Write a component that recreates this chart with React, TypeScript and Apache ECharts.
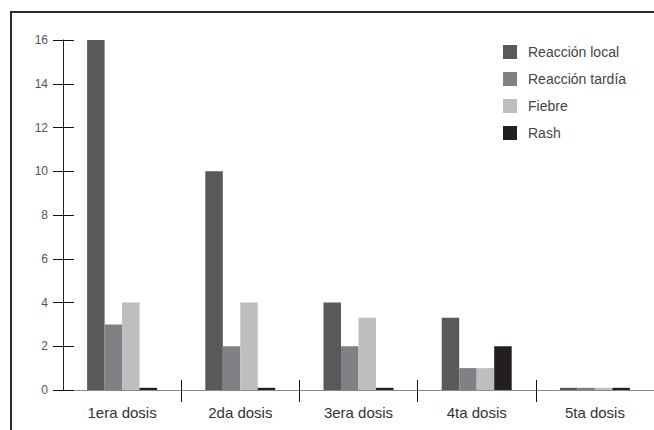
import React, { useEffect, useRef } from "react";
import * as echarts from "echarts";

const categories = ["1era dosis", "2da dosis", "3era dosis", "4ta dosis", "5ta dosis"];
const seriesNames = ["Reacción local", "Reacción tardía", "Fiebre", "Rash"];
const reaccionLocal = [16, 10, 4, 3.3, 0.1];
const reaccionTardia = [3, 2, 2, 1, 0.1];
const fiebre = [4, 4, 3.3, 1, 0.1];
const rash = [0.1, 0.1, 0.1, 2, 0.1];
const colors = ["#58595b", "#808184", "#bcbec0", "#231f20"];
const boundaryTicks = [1, 2, 3, 4];

const FONT = "Liberation Sans, Arial, sans-serif";

export default function App() {
  const ref = useRef<HTMLDivElement>(null);
  useEffect(() => {
    if (!ref.current) return;
    const chart = echarts.init(ref.current, undefined, { renderer: "svg" });
    const values = [reaccionLocal, reaccionTardia, fiebre, rash];
    const grid = { left: 63, right: 0, top: 40, bottom: 40, containLabel: false };
    const yBase = { type: "value", min: 0, max: 16, interval: 2 };
    chart.setOption({
      animation: false,
      backgroundColor: "#ffffff",
      textStyle: { fontFamily: FONT },
      grid,
      legend: {
        orient: "vertical",
        left: 503,
        top: 45,
        padding: 0,
        itemWidth: 14,
        itemHeight: 14,
        itemGap: 13,
        icon: "rect",
        data: seriesNames,
        textStyle: { fontFamily: FONT, fontSize: 14, color: "#444", padding: [0, 0, 0, 6] },
      },
      xAxis: [
        {
          type: "category",
          data: categories,
          axisLine: { lineStyle: { color: "#8a8a8a", width: 1 } },
          axisTick: { show: false },
          axisLabel: { fontFamily: FONT, fontSize: 15, color: "#333", margin: 15 },
        },
        {
          type: "value",
          min: 0,
          max: 5,
          interval: 1,
          position: "bottom",
          axisLine: { show: false },
          splitLine: { show: false },
          axisLabel: { show: false },
          axisTick: { show: true, customValues: boundaryTicks, length: 12, lineStyle: { color: "#111", width: 1 } },
        },
        {
          type: "value",
          min: 0,
          max: 5,
          interval: 1,
          position: "bottom",
          axisLine: { show: false },
          splitLine: { show: false },
          axisLabel: { show: false },
          axisTick: { show: true, inside: true, customValues: boundaryTicks, length: 10, lineStyle: { color: "#111", width: 1 } },
        },
      ],
      yAxis: [
        {
          ...yBase,
          axisLine: { show: true, lineStyle: { color: "#222", width: 1 } },
          axisTick: { show: true, length: 10, lineStyle: { color: "#111", width: 1 } },
          splitLine: { show: false },
          axisLabel: { fontFamily: FONT, fontSize: 12, color: "#555", margin: 15 },
        },
        {
          ...yBase,
          position: "left",
          axisLine: { show: false },
          axisTick: { show: true, inside: true, length: 11, lineStyle: { color: "#111", width: 1 } },
          splitLine: { show: false },
          axisLabel: { show: false },
        },
      ],
      series: seriesNames.map((name, i) => ({
        name,
        type: "bar",
        xAxisIndex: 0,
        yAxisIndex: 0,
        data: values[i],
        barWidth: 17.5,
        barGap: "0%",
        itemStyle: { color: colors[i] },
      })),
      graphic: [
        {
          type: "polyline",
          shape: { points: [[11, 430], [11, 12], [654, 12]] },
          style: { stroke: "#2a2a2a", lineWidth: 2, fill: "none" },
          z: 100,
        },
      ],
    });
    return () => chart.dispose();
  }, []);
  return (
    <div
      ref={ref}
      style={{ position: "fixed", left: 0, top: 0, width: 654, height: 430, background: "#fff" }}
    />
  );
}
